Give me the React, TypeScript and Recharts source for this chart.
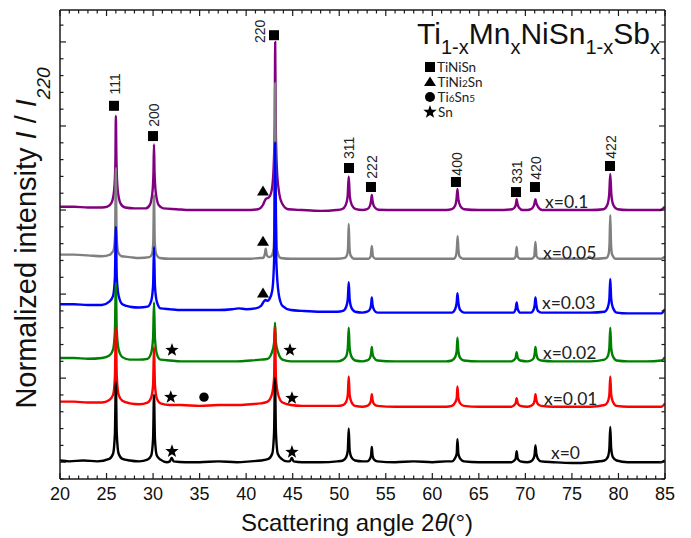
import React from 'react';
import { ComposedChart, Line, Scatter, XAxis, YAxis } from 'recharts';

type Pt = [number, number];

// Diffraction patterns, 2θ (deg) vs normalized intensity incl. vertical offset
const PATTERN_X010: Pt[] = [[20,1.52],[21.5,1.52],[23,1.515],[24.5,1.515],[25.1,1.52],[25.55,1.545],[25.82,1.62],[25.95,1.78],[26.0,2.06],[26.07,1.78],[26.2,1.62],[26.5,1.54],[27.0,1.515],[28,1.51],[29.2,1.51],[29.65,1.53],[29.92,1.6],[30.04,1.72],[30.1,1.89],[30.16,1.72],[30.3,1.6],[30.6,1.53],[31.1,1.51],[32.5,1.505],[34,1.5],[36,1.5],[38,1.5],[40,1.5],[41.3,1.505],[41.8,1.53],[42.1,1.565],[42.25,1.57],[42.45,1.575],[42.75,1.62],[42.95,1.75],[43.07,2.0],[43.12,2.5],[43.18,2.0],[43.3,1.75],[43.5,1.62],[43.85,1.54],[44.5,1.505],[46,1.5],[48,1.495],[49.7,1.5],[50.3,1.505],[50.7,1.53],[50.9,1.58],[51.02,1.7],[51.14,1.58],[51.35,1.53],[51.8,1.505],[52.5,1.5],[53.0,1.505],[53.3,1.525],[53.42,1.555],[53.5,1.59],[53.58,1.555],[53.75,1.52],[54.2,1.502],[56,1.5],[58,1.5],[60,1.5],[61.5,1.5],[62.1,1.505],[62.45,1.525],[62.6,1.565],[62.7,1.625],[62.8,1.565],[63.0,1.525],[63.4,1.505],[65,1.5],[67,1.5],[68.6,1.505],[68.9,1.52],[69.0,1.54],[69.06,1.565],[69.14,1.54],[69.3,1.515],[69.7,1.5],[70.2,1.5],[70.6,1.505],[70.9,1.525],[71.0,1.545],[71.08,1.565],[71.16,1.545],[71.35,1.52],[71.8,1.5],[73,1.5],[75,1.5],[77,1.5],[78.4,1.505],[78.8,1.53],[79.0,1.59],[79.12,1.714],[79.24,1.59],[79.45,1.53],[79.9,1.505],[81,1.5],[83,1.5],[84.5,1.5],[85,1.52]];

const PATTERN_X005: Pt[] = [[20,1.235],[21.5,1.235],[23,1.23],[24.5,1.225],[25.4,1.235],[25.55,1.245],[25.75,1.26],[25.92,1.35],[26.0,1.75],[26.08,1.35],[26.25,1.25],[26.6,1.225],[27.5,1.22],[28.5,1.215],[29.6,1.22],[29.9,1.24],[30.02,1.31],[30.1,1.59],[30.18,1.31],[30.35,1.235],[30.7,1.215],[31.8,1.21],[33,1.21],[35,1.21],[37,1.21],[39,1.21],[40.5,1.21],[41.5,1.215],[41.8,1.215],[42.0,1.235],[42.1,1.27],[42.2,1.235],[42.4,1.22],[42.7,1.225],[42.95,1.27],[43.04,1.45],[43.12,2.255],[43.2,1.45],[43.32,1.26],[43.7,1.215],[44.8,1.21],[46,1.21],[48,1.21],[49.8,1.21],[50.6,1.215],[50.85,1.235],[50.95,1.28],[51.02,1.417],[51.1,1.28],[51.22,1.23],[51.6,1.21],[52.5,1.21],[53.15,1.21],[53.38,1.225],[53.5,1.286],[53.62,1.225],[53.9,1.21],[56,1.21],[58,1.21],[60,1.21],[61.5,1.21],[62.3,1.21],[62.55,1.23],[62.64,1.27],[62.72,1.345],[62.8,1.27],[62.92,1.225],[63.3,1.21],[65,1.21],[67,1.21],[68.75,1.21],[68.96,1.225],[69.06,1.28],[69.16,1.225],[69.4,1.21],[70.7,1.21],[70.95,1.225],[71.08,1.31],[71.2,1.225],[71.5,1.21],[73,1.21],[75,1.21],[76.6,1.21],[76.9,1.222],[77.2,1.21],[78.7,1.215],[78.95,1.24],[79.04,1.3],[79.12,1.47],[79.2,1.3],[79.32,1.235],[79.7,1.21],[81,1.21],[83,1.21],[84.6,1.21],[85,1.225]];

const PATTERN_X003: Pt[] = [[20,0.94],[21.5,0.94],[23,0.935],[24.5,0.935],[25.3,0.955],[25.7,0.99],[25.9,1.1],[26.0,1.4],[26.1,1.1],[26.3,0.99],[26.7,0.94],[27.5,0.925],[28.5,0.92],[29.4,0.925],[29.8,0.96],[30.0,1.05],[30.1,1.28],[30.2,1.05],[30.4,0.955],[30.8,0.915],[31.8,0.91],[33,0.905],[35,0.905],[37,0.905],[38.5,0.91],[39.2,0.915],[40,0.91],[41,0.915],[41.6,0.93],[41.95,0.96],[42.1,0.965],[42.3,0.96],[42.5,0.97],[42.8,1.02],[43.0,1.2],[43.12,1.9],[43.24,1.2],[43.5,1.0],[43.9,0.93],[44.8,0.905],[46,0.9],[48,0.895],[49.8,0.895],[50.4,0.9],[50.75,0.925],[50.92,0.97],[51.02,1.07],[51.12,0.97],[51.3,0.92],[51.7,0.895],[52.5,0.89],[53.0,0.895],[53.3,0.91],[53.42,0.935],[53.5,0.98],[53.58,0.935],[53.75,0.905],[54.1,0.89],[56,0.89],[58,0.89],[60,0.89],[61.5,0.89],[62.1,0.89],[62.45,0.91],[62.62,0.95],[62.7,1.005],[62.8,0.95],[63.0,0.905],[63.4,0.89],[65,0.89],[67,0.89],[68.7,0.89],[68.95,0.91],[69.06,0.95],[69.18,0.91],[69.45,0.89],[70.2,0.89],[70.6,0.89],[70.9,0.91],[71.0,0.935],[71.08,0.98],[71.18,0.935],[71.35,0.9],[71.7,0.89],[73,0.89],[75,0.89],[77,0.89],[78.5,0.895],[78.85,0.92],[79.02,0.97],[79.12,1.09],[79.22,0.97],[79.4,0.92],[79.8,0.89],[81,0.885],[83,0.885],[84.6,0.885],[85,0.91]];

const PATTERN_X002: Pt[] = [[20,0.62],[21.5,0.62],[23,0.615],[24.5,0.62],[25.3,0.635],[25.7,0.67],[25.9,0.78],[26.0,1.065],[26.1,0.78],[26.3,0.67],[26.7,0.625],[27.5,0.61],[28.5,0.61],[29.4,0.615],[29.8,0.65],[30.0,0.74],[30.1,0.95],[30.2,0.74],[30.4,0.645],[30.8,0.61],[31.8,0.605],[33,0.6],[35,0.6],[37,0.6],[39,0.6],[40.5,0.605],[41.6,0.61],[42.3,0.615],[42.75,0.65],[43.0,0.71],[43.1,0.83],[43.2,0.71],[43.45,0.65],[43.9,0.61],[44.8,0.6],[46,0.6],[48,0.6],[49.8,0.6],[50.4,0.61],[50.75,0.63],[50.92,0.68],[51.02,0.8],[51.12,0.68],[51.3,0.63],[51.7,0.605],[52.5,0.6],[53.0,0.605],[53.3,0.62],[53.42,0.645],[53.5,0.685],[53.58,0.645],[53.75,0.62],[54.1,0.605],[56,0.6],[58,0.6],[60,0.6],[61.5,0.6],[62.1,0.605],[62.45,0.625],[62.62,0.66],[62.7,0.74],[62.8,0.66],[63.0,0.62],[63.4,0.605],[65,0.6],[67,0.6],[68.5,0.6],[68.7,0.605],[68.95,0.62],[69.06,0.655],[69.18,0.62],[69.45,0.605],[70.2,0.6],[70.6,0.605],[70.9,0.62],[71.0,0.645],[71.08,0.685],[71.18,0.645],[71.35,0.615],[71.7,0.605],[73,0.6],[75,0.6],[77,0.6],[78.5,0.61],[78.85,0.63],[79.02,0.68],[79.12,0.8],[79.22,0.68],[79.4,0.63],[79.8,0.605],[81,0.6],[83,0.6],[84.6,0.605],[85,0.625]];

const PATTERN_X001: Pt[] = [[20,0.36],[21.5,0.36],[23,0.355],[24.5,0.355],[25.3,0.37],[25.7,0.4],[25.9,0.51],[26.0,0.8],[26.1,0.51],[26.3,0.4],[26.7,0.365],[27.5,0.35],[28.5,0.345],[29.4,0.355],[29.8,0.385],[30.0,0.46],[30.1,0.685],[30.2,0.46],[30.4,0.38],[30.8,0.35],[31.8,0.34],[33,0.34],[35,0.335],[37,0.34],[39,0.34],[40.5,0.345],[41.6,0.35],[42.3,0.36],[42.75,0.4],[43.0,0.5],[43.1,0.8],[43.2,0.5],[43.45,0.4],[43.9,0.355],[44.8,0.34],[46,0.335],[48,0.335],[49.8,0.335],[50.4,0.34],[50.75,0.36],[50.92,0.4],[51.02,0.51],[51.12,0.4],[51.3,0.36],[51.7,0.335],[52.5,0.33],[53.0,0.335],[53.3,0.35],[53.42,0.37],[53.5,0.405],[53.58,0.37],[53.75,0.345],[54.1,0.335],[56,0.33],[58,0.33],[60,0.33],[61.5,0.33],[62.1,0.335],[62.45,0.355],[62.62,0.38],[62.7,0.45],[62.8,0.38],[63.0,0.35],[63.4,0.335],[65,0.33],[67,0.33],[68.5,0.33],[68.7,0.335],[68.95,0.35],[69.06,0.38],[69.18,0.35],[69.45,0.335],[70.2,0.33],[70.6,0.335],[70.9,0.35],[71.0,0.37],[71.08,0.405],[71.18,0.37],[71.35,0.345],[71.7,0.335],[73,0.33],[75,0.33],[77,0.33],[78.5,0.34],[78.85,0.36],[79.02,0.4],[79.12,0.51],[79.22,0.4],[79.4,0.36],[79.8,0.335],[81,0.33],[83,0.33],[84.6,0.33],[85,0.35]];

const PATTERN_X000: Pt[] = [[20,0.01],[21,0.005],[22.5,0.01],[24,0.005],[25.3,0.02],[25.7,0.05],[25.9,0.17],[26.0,0.476],[26.1,0.17],[26.3,0.05],[26.7,0.02],[27.5,0.01],[28.5,0.005],[29.4,0.015],[29.8,0.04],[30.0,0.14],[30.1,0.4],[30.2,0.14],[30.4,0.04],[30.8,0.015],[31.5,0.0],[31.8,0.005],[32.0,0.025],[32.2,0.005],[33.5,0.0],[35,0.0],[37,0.005],[39,0.0],[40.5,0.005],[41.6,0.01],[42.4,0.02],[42.8,0.05],[43.0,0.18],[43.1,0.5],[43.2,0.18],[43.4,0.05],[43.8,0.02],[44.4,0.005],[44.7,0.005],[44.9,0.025],[45.1,0.005],[46,0.0],[48,0.0],[49.8,0.005],[50.4,0.01],[50.75,0.03],[50.92,0.07],[51.02,0.2],[51.12,0.07],[51.3,0.03],[51.7,0.01],[52.5,0.005],[53.0,0.005],[53.3,0.02],[53.42,0.04],[53.5,0.09],[53.58,0.04],[53.75,0.015],[54.1,0.005],[56,0.0],[58,0.005],[60,0.0],[61.5,0.005],[62.1,0.005],[62.45,0.025],[62.62,0.05],[62.7,0.137],[62.8,0.05],[63.0,0.02],[63.4,0.005],[65,0.0],[67,0.0],[68.5,0.0],[68.7,0.005],[68.95,0.02],[69.06,0.065],[69.18,0.02],[69.45,0.005],[70.2,0.0],[70.6,0.005],[70.9,0.025],[71.0,0.05],[71.08,0.1],[71.18,0.05],[71.35,0.02],[71.7,0.005],[73,0.0],[75,-0.005],[77,0.0],[78.5,0.01],[78.85,0.03],[79.02,0.08],[79.12,0.21],[79.22,0.08],[79.4,0.03],[79.8,0.01],[81,0.0],[83,0.0],[84.6,0.0],[85,0.01]];

// Drawn first to last (lower x on top)
const SERIES = [
  { name: 'x=0.1', color: '#800080', points: PATTERN_X010 },
  { name: 'x=0.05', color: '#808080', points: PATTERN_X005 },
  { name: 'x=0.03', color: '#0000ff', points: PATTERN_X003 },
  { name: 'x=0.02', color: '#008000', points: PATTERN_X002 },
  { name: 'x=0.01', color: '#ff0000', points: PATTERN_X001 },
  { name: 'x=0', color: '#000000', points: PATTERN_X000 },
];

// Sample labels placed next to each pattern: [text, 2θ, intensity]
const SAMPLE_LABELS: [string, number, number][] = [
  ['x=0.1', 72.11, 1.548],
  ['x=0.05', 71.89, 1.25],
  ['x=0.03', 71.78, 0.952],
  ['x=0.02', 71.89, 0.655],
  ['x=0.01', 72.0, 0.381],
  ['x=0', 72.75, 0.06],
];

// Phase markers
const TINISN_MARKS: Pt[] = [[25.8,2.12],[29.99,1.94],[42.99,2.54],[51.05,1.75],[53.41,1.637],[62.54,1.667],[68.99,1.607],[71.03,1.637],[79.09,1.762]];
const TINI2SN_MARKS: Pt[] = [[41.81,1.613],[41.81,1.315],[41.81,1.006]];
const TI6SN5_MARKS: Pt[] = [[35.47,0.387]];
const SN_MARKS: Pt[] = [[32.03,0.667],[44.71,0.667],[31.9,0.387],[44.92,0.381],[32.03,0.065],[44.92,0.06]];

// Miller indices of the TiNiSn reflections: [hkl, 2θ, intensity]
const HKL_LABELS: [string, number, number][] = [
  ['111', 25.9, 2.25],
  ['200', 30.1, 2.065],
  ['220', 41.49, 2.5625],
  ['311', 51.05, 1.87],
  ['222', 53.52, 1.756],
  ['400', 62.65, 1.774],
  ['331', 69.1, 1.726],
  ['420', 71.14, 1.75],
  ['422', 79.2, 1.875],
];

const X_LABELED = [20, 25, 30, 35, 40, 45, 50, 55, 60, 65, 70, 75, 80, 85];
const X_MINOR_STEP = 1;
const Y_DOMAIN: [number, number] = [-0.1, 2.69];
const Y_MINOR_STEP = 0.1;
const Y_MAJOR_STEP = 0.5;

const xTicks: number[] = [];
for (let v = 20; v <= 85; v += X_MINOR_STEP) xTicks.push(v);
const yTicks: number[] = [];
for (let i = -1; i <= 26; i++) yTicks.push(Math.round(i * Y_MINOR_STEP * 10) / 10);

const toXY = (a: Pt[]) => a.map(([x, y]) => ({ x, y }));

const FONT = '"Liberation Sans", Arial, sans-serif';
const LABEL_FONT = 'Lato, "Liberation Sans", sans-serif';
const AXIS_COLOR = '#1a1a1a';

const isMajorY = (v: number) => Math.abs(v / Y_MAJOR_STEP - Math.round(v / Y_MAJOR_STEP)) < 1e-6;

const BottomTick = (p: any) => {
  const v = p.payload.value;
  const major = X_LABELED.includes(v);
  return (
    <g>
      <line x1={p.x} y1={p.y} x2={p.x} y2={p.y - (major ? 6 : 3.5)} stroke={AXIS_COLOR} strokeWidth={1.2} />
      {major && (
        <text x={p.x} y={p.y + 21} textAnchor="middle" fontSize={18} fontFamily={FONT} fill="#111">
          {v}
        </text>
      )}
    </g>
  );
};

const TopTick = (p: any) => {
  const major = X_LABELED.includes(p.payload.value);
  return <line x1={p.x} y1={p.y} x2={p.x} y2={p.y + (major ? 6 : 3.5)} stroke={AXIS_COLOR} strokeWidth={1.2} />;
};

const LeftTick = (p: any) => {
  const major = isMajorY(p.payload.value);
  return <line x1={p.x} y1={p.y} x2={p.x + (major ? 6 : 3.5)} y2={p.y} stroke={AXIS_COLOR} strokeWidth={1.2} />;
};

const RightTick = (p: any) => {
  const major = isMajorY(p.payload.value);
  return <line x1={p.x} y1={p.y} x2={p.x - (major ? 6 : 3.5)} y2={p.y} stroke={AXIS_COLOR} strokeWidth={1.2} />;
};

function starPath(cx: number, cy: number, R: number, r: number) {
  let d = '';
  for (let i = 0; i < 10; i++) {
    const a = (-90 + i * 36) * (Math.PI / 180);
    const rad = i % 2 === 0 ? R : r;
    d += (i === 0 ? 'M' : 'L') + (cx + rad * Math.cos(a)).toFixed(2) + ',' + (cy + rad * Math.sin(a)).toFixed(2);
  }
  return d + 'Z';
}

const SquareShape = (p: any) => <rect x={p.cx - 5} y={p.cy - 5} width={10} height={10} fill="#000" />;
const TriangleShape = (p: any) => (
  <path d={`M${p.cx},${p.cy - 5.5}L${p.cx + 6},${p.cy + 4.5}L${p.cx - 6},${p.cy + 4.5}Z`} fill="#000" />
);
const CircleShape = (p: any) => <circle cx={p.cx} cy={p.cy} r={4.7} fill="#000" />;
const StarShape = (p: any) => <path d={starPath(p.cx, p.cy, 7, 2.9)} fill="#000" />;

const HklShape = (p: any) => (
  <text
    transform={`translate(${p.cx},${p.cy}) rotate(-90)`}
    textAnchor="middle"
    dominantBaseline="central"
    fontSize={14}
    fontFamily={FONT}
    fill="#222"
  >
    {p.payload.label}
  </text>
);

const SampleShape = (p: any) => (
  <text x={p.cx} y={p.cy} dominantBaseline="central" fontSize={17.5} fontFamily={LABEL_FONT} fill="#222">
    {p.payload.label}
  </text>
);

const withLabel = (a: [string, number, number][]) => a.map(([label, x, y]) => ({ label, x, y }));

const axisCommon = {
  type: 'number' as const,
  interval: 0 as const,
  allowDataOverflow: true,
  tickSize: 0,
  tickMargin: 0,
  tickLine: false,
  axisLine: { stroke: AXIS_COLOR, strokeWidth: 1.5 },
};

export default function App() {
  return (
    <div style={{ position: 'absolute', left: 0, top: 0, width: 691, height: 538, background: '#fff' }}>
      <ComposedChart width={691} height={538} margin={{ top: 9, right: 25, bottom: 58, left: 59 }}>
        <XAxis {...axisCommon} xAxisId="b" dataKey="x" domain={[20, 85]} ticks={xTicks} orientation="bottom" height={1} tick={BottomTick} />
        <XAxis {...axisCommon} xAxisId="t" dataKey="x" domain={[20, 85]} ticks={xTicks} orientation="top" height={1} tick={TopTick} />
        <YAxis {...axisCommon} yAxisId="l" dataKey="y" domain={Y_DOMAIN} ticks={yTicks} orientation="left" width={1} tick={LeftTick} />
        <YAxis {...axisCommon} yAxisId="r" dataKey="y" domain={Y_DOMAIN} ticks={yTicks} orientation="right" width={1} tick={RightTick} />
        {SERIES.map((s) => (
          <Line
            key={s.name}
            xAxisId="b"
            yAxisId="l"
            data={toXY(s.points)}
            dataKey="y"
            type="monotone"
            stroke={s.color}
            strokeWidth={2.4}
            strokeLinejoin="round"
            dot={false}
            activeDot={false}
            isAnimationActive={false}
          />
        ))}
        <Scatter xAxisId="b" yAxisId="l" data={toXY(TINISN_MARKS)} dataKey="y" shape={SquareShape} isAnimationActive={false} />
        <Scatter xAxisId="b" yAxisId="l" data={toXY(TINI2SN_MARKS)} dataKey="y" shape={TriangleShape} isAnimationActive={false} />
        <Scatter xAxisId="b" yAxisId="l" data={toXY(TI6SN5_MARKS)} dataKey="y" shape={CircleShape} isAnimationActive={false} />
        <Scatter xAxisId="b" yAxisId="l" data={toXY(SN_MARKS)} dataKey="y" shape={StarShape} isAnimationActive={false} />
        <Scatter xAxisId="b" yAxisId="l" data={withLabel(HKL_LABELS)} dataKey="y" shape={HklShape} isAnimationActive={false} />
        <Scatter xAxisId="b" yAxisId="l" data={withLabel(SAMPLE_LABELS)} dataKey="y" shape={SampleShape} isAnimationActive={false} />
      </ComposedChart>
      <svg
        width={691}
        height={538}
        style={{ position: 'absolute', left: 0, top: 0, pointerEvents: 'none' }}
      >
        {/* compound formula */}
        <text x={417} y={44} fontSize={30} fontFamily={FONT} fill="#111">
          Ti<tspan fontSize={20} dy={10}>1-x</tspan>
          <tspan dy={-10}>Mn</tspan>
          <tspan fontSize={20} dy={10}>x</tspan>
          <tspan dy={-10}>NiSn</tspan>
          <tspan fontSize={20} dy={10}>1-x</tspan>
          <tspan dy={-10}>Sb</tspan>
          <tspan fontSize={20} dy={10}>x</tspan>
        </text>
        {/* phase key */}
        <g fontFamily={LABEL_FONT} fontSize={13.5} fill="#222">
          <rect x={425} y={62} width={10} height={10} fill="#000" />
          <text x={437} y={71.5}>TiNiSn</text>
          <path d="M430,76.5L436,86L424,86Z" fill="#000" />
          <text x={437.5} y={86.5}>
            TiNi<tspan fontSize={10}>2</tspan>Sn
          </text>
          <circle cx={430} cy={97} r={5} fill="#000" />
          <text x={437.5} y={101.5}>
            Ti<tspan fontSize={10}>6</tspan>Sn<tspan fontSize={10}>5</tspan>
          </text>
          <path d={starPath(430, 112, 7, 2.9)} fill="#000" />
          <text x={438} y={116.5}>Sn</text>
        </g>
        {/* axis titles */}
        <text x={357} y={531} textAnchor="middle" fontSize={24} fontFamily={FONT} fill="#111">
          Scattering angle 2<tspan fontStyle="italic">θ</tspan>(°)
        </text>
        <text
          transform="translate(36,238) rotate(-90)"
          textAnchor="middle"
          fontSize={29}
          fontFamily={FONT}
          fill="#111"
        >
          Normalized intensity <tspan fontStyle="italic">I</tspan> / <tspan fontStyle="italic">I</tspan>
          <tspan fontSize={19} dy={14} fontStyle="italic">220</tspan>
        </text>
      </svg>
    </div>
  );
}
